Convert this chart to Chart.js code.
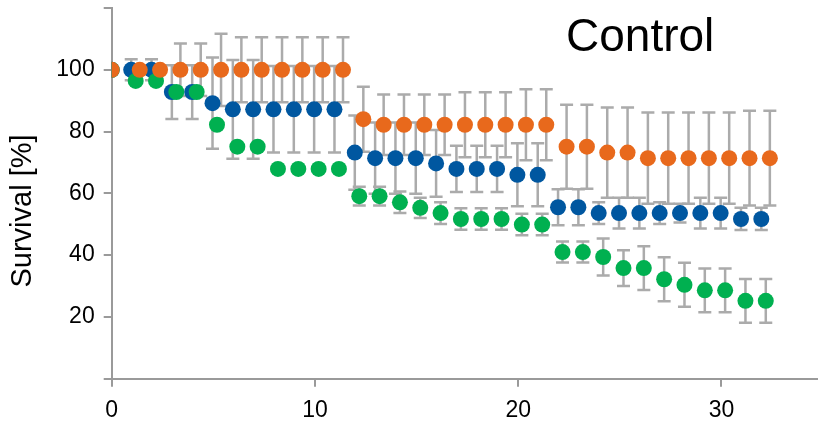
<!DOCTYPE html>
<html>
<head>
<meta charset="utf-8">
<script src="https://cdn.jsdelivr.net/npm/chart.js@4/dist/chart.umd.min.js"></script>
<style>
  html, body { margin: 0; padding: 0; background: #ffffff; }
  #wrap { width: 825px; height: 423px; }
</style>
</head>
<body>
<div id="wrap"><canvas id="chart" width="825" height="423"></canvas></div>
<script>
// Days after start of the experiment
const days = [0, 1, 2, 3, 4, 5, 6, 7, 8, 9, 10, 11, 12, 13, 14, 15, 16,
              17, 18, 19, 20, 21, 22, 23, 24, 25, 26, 27, 28, 29, 30, 31, 32];

// Mean survival (%) and error (±) per group
const blueSurvival = [100, 100, 100, 92.8, 92.8, 89.2, 87.2, 87.2, 87.2, 87.2, 87.2, 87.2,
                      73.2, 71.4, 71.4, 71.4, 69.7, 67.9, 67.9, 67.9, 66.0, 66.0,
                      55.5, 55.5, 53.6, 53.6, 53.6, 53.6, 53.6, 53.6, 53.6, 51.7, 51.7];
const blueError    = [0, 3.4, 3.4, 8.7, 8.7, 14.8, 16, 16, 14, 14, 14, 14,
                      12, 11.5, 11.5, 11.5, 10.8, 7.5, 7.5, 7.5, 10.2, 10.2,
                      5.8, 5.8, 3.5, 5, 5, 3.5, 3, 5, 5, 3.6, 3.6];

const greenSurvival = [100, 96.4, 96.4, 92.8, 92.8, 82.2, 75.1, 75.1, 67.9, 67.9, 67.9, 67.9,
                       59.1, 59.1, 57.1, 55.3, 53.6, 51.7, 51.7, 51.7, 49.9, 49.9,
                       41.0, 41.0, 39.4, 35.8, 35.8, 32.2, 30.4, 28.6, 28.6, 25.2, 25.2];
const greenError    = [0, 0, 0, 0, 0, 0, 0, 0, 0, 0, 0, 0,
                       3, 3, 3.5, 3.3, 3.5, 3.5, 3.5, 3.5, 3.5, 3.5,
                       3.4, 3.4, 6, 5.8, 7.1, 7.1, 7.1, 7.1, 7.1, 7.1, 7.1];

const orangeSurvival = [100, 100, 100, 100, 100, 100, 100, 100, 100, 100, 100, 100,
                        84.0, 82.2, 82.2, 82.2, 82.2, 82.2, 82.2, 82.2, 82.2, 82.2,
                        75.1, 75.1, 73.2, 73.2, 71.4, 71.4, 71.4, 71.4, 71.4, 71.4, 71.4];
const orangeError    = [0, 0, 0, 8.5, 8.5, 11.7, 10.5, 10.5, 10.5, 10.5, 10.5, 10.5,
                        10.5, 9.8, 9.8, 9.8, 9.8, 10.5, 10.5, 10.5, 11.5, 11.5,
                        13.6, 13.6, 14.6, 14.6, 14.8, 14.8, 14.8, 14.8, 14.8, 15.3, 15.3];

// Axis ticks
const xTicks = [0, 10, 20, 30];
const yTicks = [0, 20, 40, 60, 80, 100, 120];
const yTickLabels = ['', '20', '40', '60', '80', '100', ''];

const chartTitle = 'Control';
const yTitle = 'Survival [%]';

// Horizontal dodge so the groups don't sit on top of each other
const dodge = { blue: -0.04, green: 0.18, orange: 0.38 };

function points(values, errors, shift) {
  return days.map((d, i) => ({ x: d === 0 ? d : d + shift, y: values[i], err: errors[i] }));
}

const FONT = '"Liberation Sans", Arial, Helvetica, sans-serif';
const AXIS_GREY = '#9a9a9a';
const BAR_GREY = '#ababab';

// Vertical error bars with caps, drawn underneath the markers
const errorBars = {
  id: 'errorBars',
  beforeDatasetsDraw(chart) {
    const { ctx, scales: { x, y } } = chart;
    ctx.save();
    ctx.strokeStyle = BAR_GREY;
    ctx.lineWidth = 2.5;
    const half = 6.5;
    chart.data.datasets.forEach(ds => {
      ds.data.forEach(p => {
        if (!p.err) return;
        const px = x.getPixelForValue(p.x);
        const top = y.getPixelForValue(p.y + p.err);
        const bot = y.getPixelForValue(p.y - p.err);
        ctx.beginPath();
        ctx.moveTo(px, top); ctx.lineTo(px, bot);
        ctx.moveTo(px - half, top); ctx.lineTo(px + half, top);
        ctx.moveTo(px - half, bot); ctx.lineTo(px + half, bot);
        ctx.stroke();
      });
    });
    ctx.restore();
  }
};

// Panel heading and y-axis caption
const labels = {
  id: 'labels',
  afterDraw(chart) {
    const { ctx } = chart;
    ctx.save();
    ctx.fillStyle = '#000000';
    ctx.font = '46px ' + FONT;
    ctx.textAlign = 'left';
    ctx.textBaseline = 'alphabetic';
    ctx.fillText(chartTitle, 566, 51);

    ctx.font = '29px ' + FONT;
    ctx.translate(23, 211);
    ctx.rotate(-Math.PI / 2);
    ctx.textAlign = 'center';
    ctx.textBaseline = 'middle';
    ctx.fillText(yTitle, 0, 0);
    ctx.restore();
  }
};

const marker = { pointRadius: 8, pointHoverRadius: 8, pointBorderWidth: 0, showLine: false };

new Chart(document.getElementById('chart'), {
  type: 'scatter',
  data: {
    datasets: [
      { label: 'orange', data: points(orangeSurvival, orangeError, dodge.orange),
        backgroundColor: '#E8691C', borderColor: '#E8691C', ...marker },
      { label: 'green', data: points(greenSurvival, greenError, dodge.green),
        backgroundColor: '#00B050', borderColor: '#00B050', ...marker },
      { label: 'blue', data: points(blueSurvival, blueError, dodge.blue),
        backgroundColor: '#0057A0', borderColor: '#0057A0', ...marker }
    ]
  },
  options: {
    responsive: false,
    animation: false,
    events: [],
    layout: { padding: { top: 7, right: 0, bottom: 0, left: 0 } },
    plugins: { legend: { display: false }, tooltip: { enabled: false }, title: { display: false } },
    scales: {
      x: {
        type: 'linear', min: 0, max: 34.7,
        grid: { drawOnChartArea: false, drawTicks: true, tickLength: 8, color: AXIS_GREY, lineWidth: 2 },
        border: { display: true, color: AXIS_GREY, width: 2 },
        afterBuildTicks(scale) { scale.ticks = xTicks.map(v => ({ value: v })); },
        ticks: { color: '#000000', font: { family: FONT, size: 23 }, padding: 10, maxRotation: 0,
                 callback: v => String(v) },
        afterFit(scale) { scale.height = 44.3; scale.paddingLeft = 0; scale.paddingRight = 0; }
      },
      y: {
        type: 'linear', min: 0, max: 120,
        grid: { drawOnChartArea: false, drawTicks: true, tickLength: 8, color: AXIS_GREY, lineWidth: 2 },
        border: { display: true, color: AXIS_GREY, width: 2 },
        afterBuildTicks(scale) { scale.ticks = yTicks.map(v => ({ value: v })); },
        ticks: { color: '#000000', font: { family: FONT, size: 23 }, padding: 9,
                 callback: (v) => yTickLabels[yTicks.indexOf(v)] },
        afterFit(scale) { scale.width = 111.7; scale.paddingTop = 0; scale.paddingBottom = 0; }
      }
    }
  },
  plugins: [errorBars, labels]
});
</script>
</body>
</html>
